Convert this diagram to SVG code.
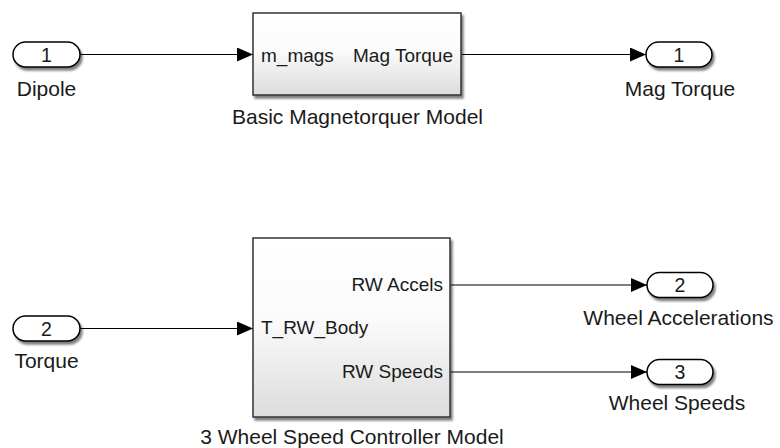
<svg xmlns="http://www.w3.org/2000/svg" width="780" height="448" viewBox="0 0 780 448">
  <defs>
    <linearGradient id="blockFill" x1="0" y1="0" x2="0" y2="1">
      <stop offset="0" stop-color="#ffffff"/>
      <stop offset="0.45" stop-color="#fbfbfb"/>
      <stop offset="1" stop-color="#dcdcdc"/>
    </linearGradient>
    <filter id="shadow" x="-10%" y="-20%" width="130%" height="150%">
      <feGaussianBlur in="SourceAlpha" stdDeviation="1.2"/>
      <feOffset dx="2" dy="2.5" result="b"/>
      <feComponentTransfer><feFuncA type="linear" slope="0.5"/></feComponentTransfer>
      <feMerge><feMergeNode/><feMergeNode in="SourceGraphic"/></feMerge>
    </filter>
    <marker id="arrow" viewBox="0 0 16 14" refX="16" refY="7" markerWidth="16" markerHeight="14" markerUnits="userSpaceOnUse" orient="auto">
      <path d="M0,0 L16,7 L0,14 Z" fill="#000"/>
    </marker>
  </defs>
  <style>
    text { font-family: "Liberation Sans", Arial, sans-serif; fill: #1a1a1a; }
    .lbl { font-size: 21px; text-anchor: middle; }
    .num { font-size: 19.5px; text-anchor: middle; }
    .pin { font-size: 19px; text-anchor: start; }
    .pout { font-size: 19px; text-anchor: end; }
    .port { fill: #ffffff; stroke: #000; stroke-width: 1.5; filter: url(#shadow); }
    .block { fill: url(#blockFill); stroke: #333; stroke-width: 1.5; filter: url(#shadow); }
    .wire { fill: none; stroke: #000; stroke-width: 1; marker-end: url(#arrow); }
  </style>

  <rect width="780" height="448" fill="#ffffff"/>

  <!-- signal lines -->
  <g id="connectors">
    <line class="wire" x1="80" y1="54.5" x2="253" y2="54.5"/>
    <line class="wire" x1="462" y1="54.5" x2="646" y2="54.5"/>
    <line class="wire" x1="80" y1="328.5" x2="253" y2="328.5"/>
    <line class="wire" x1="451" y1="285" x2="647" y2="285"/>
    <line class="wire" x1="451" y1="372" x2="647" y2="372"/>
  </g>

  <!-- inport 1 -->
  <g id="in_dipole">
    <rect class="port" x="13" y="42" width="67" height="25" rx="12.5"/>
    <text class="num" x="46.5" y="61.5">1</text>
    <text class="lbl" x="46.5" y="96">Dipole</text>
  </g>

  <!-- inport 2 -->
  <g id="in_torque">
    <rect class="port" x="13" y="316" width="67" height="25" rx="12.5"/>
    <text class="num" x="46.5" y="335.5">2</text>
    <text class="lbl" x="46.5" y="368">Torque</text>
  </g>

  <!-- magnetorquer subsystem -->
  <g id="magnetorquer">
    <rect class="block" x="253" y="13" width="208" height="82"/>
    <text class="pin" x="261" y="62">m_mags</text>
    <text class="pout" x="453" y="62">Mag Torque</text>
    <text class="lbl" x="357.5" y="124">Basic Magnetorquer Model</text>
  </g>

  <!-- wheel speed controller subsystem -->
  <g id="wheel_controller">
    <rect class="block" x="253" y="238" width="197" height="179"/>
    <text class="pin" x="261" y="334">T_RW_Body</text>
    <text class="pout" x="443" y="291">RW Accels</text>
    <text class="pout" x="443" y="378">RW Speeds</text>
    <text class="lbl" x="352" y="444">3 Wheel Speed Controller Model</text>
  </g>

  <!-- outport 1 -->
  <g id="out_mag_torque">
    <rect class="port" x="646" y="42" width="66" height="25" rx="12.5"/>
    <text class="num" x="679" y="61.5">1</text>
    <text class="lbl" x="680" y="96">Mag Torque</text>
  </g>

  <!-- outport 2 -->
  <g id="out_wheel_accel">
    <rect class="port" x="647" y="272.5" width="66" height="25" rx="12.5"/>
    <text class="num" x="680" y="292">2</text>
    <text class="lbl" x="678.5" y="325">Wheel Accelerations</text>
  </g>

  <!-- outport 3 -->
  <g id="out_wheel_speeds">
    <rect class="port" x="647" y="359.5" width="66" height="25" rx="12.5"/>
    <text class="num" x="680" y="379">3</text>
    <text class="lbl" x="677" y="410">Wheel Speeds</text>
  </g>
</svg>
